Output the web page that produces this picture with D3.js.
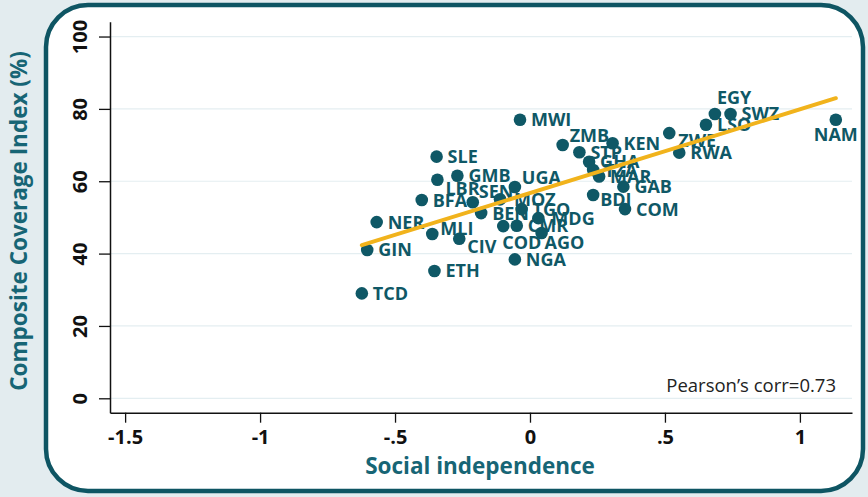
<!DOCTYPE html>
<html>
<head>
<meta charset="utf-8">
<script src="https://cdn.jsdelivr.net/npm/d3@7"></script>
<style>
  html, body { margin: 0; padding: 0; background: #e3ecef; }
  svg { display: block; }
</style>
</head>
<body>
<svg id="chart" width="868" height="497"></svg>
<script>
// Country codes, social independence score and composite coverage index (%)
const countries = ["TCD","GIN","NER","ETH","MLI","CIV","SLE","LBR","GMB","BFA","SEN","BEN",
  "MOZ","UGA","TGO","MDG","CMR","COD","AGO","NGA","MWI","ZMB","STP","KEN","GHA","TZA","MAR",
  "BDI","GAB","COM","ZWE","RWA","LSO","EGY","SWZ","NAM"];
const socialIndependence = [-0.623,-0.603,-0.568,-0.354,-0.362,-0.262,-0.346,-0.343,-0.269,-0.401,-0.212,-0.181,
  -0.111,-0.056,-0.031,0.031,-0.049,-0.099,0.043,-0.056,-0.037,0.121,0.183,0.306,0.219,0.234,0.256,
  0.234,0.346,0.352,0.516,0.553,0.652,0.685,0.743,1.133];
const coverageIndex = [29.0,41.0,48.7,35.2,45.4,44.1,66.8,60.4,61.5,54.8,54.2,51.2,
  55.0,58.4,52.3,49.8,47.7,47.6,45.7,38.4,77.0,70.0,68.0,70.5,65.4,63.1,61.3,
  56.2,58.5,52.3,73.3,67.9,75.6,78.6,78.6,77.0];

const xTicks = [-1.5, -1, -0.5, 0, 0.5, 1];
const xTickLabels = ["-1.5", "-1", "-.5", "0", ".5", "1"];
const yTicks = [0, 20, 40, 60, 80, 100];
const corrText = "Pearson\u2019s corr=0.73";

// Marker label placement (offset from the marker centre, px); default is to the right
const labelOffset = {
  UGA: [7, -10], SEN: [6, -11], ZMB: [7, -10], LBR: [8, 9], MLI: [8, -6],
  CIV: [8, 8], COD: [-1, 16], AGO: [3, 10], MOZ: [14, 0], EGY: [2, -16],
  ZWE: [9, 7], BDI: [7, 5], MDG: [13, 0], NAM: [0, 15]
};

const teal = "#0f5866";
const svg = d3.select("#chart");

// Rounded white panel
svg.append("rect")
  .attr("x", 46).attr("y", 5).attr("width", 817).attr("height", 486)
  .attr("rx", 42).attr("ry", 42)
  .attr("fill", "#ffffff").attr("stroke", "#0e5563").attr("stroke-width", 4.5);

const x = d3.scaleLinear().domain([-1.556, 1.193]).range([110, 852]);
const y = d3.scaleLinear().domain([-3.98, 104.1]).range([412.7, 21.7]);

// Horizontal grid
svg.append("g").selectAll("line").data(yTicks).join("line")
  .attr("x1", 110).attr("x2", 852)
  .attr("y1", d => y(d)).attr("y2", d => y(d))
  .attr("stroke", "#e4eef1").attr("stroke-width", 1.2);

// Axes
const xAxis = d3.axisBottom(x).tickValues(xTicks)
  .tickFormat((d, i) => xTickLabels[i]).tickSize(10).tickSizeOuter(0).tickPadding(4);
const gx = svg.append("g").attr("transform", "translate(0,412.7)").call(xAxis);
gx.select(".domain").attr("stroke", "#111").attr("stroke-width", 1.5);
gx.selectAll(".tick line").attr("stroke", "#111").attr("stroke-width", 1.3);
gx.selectAll(".tick text")
  .attr("fill", "#111").attr("font-family", "Open Sans").attr("font-weight", 700)
  .attr("font-size", 20).attr("dy", "0.85em");

const yAxis = d3.axisLeft(y).tickValues(yTicks).tickSize(11).tickSizeOuter(0).tickPadding(0);
const gy = svg.append("g").attr("transform", "translate(110,0)").call(yAxis);
gy.select(".domain").attr("stroke", "#111").attr("stroke-width", 1.5);
gy.selectAll(".tick line").attr("stroke", "#111").attr("stroke-width", 1.3);
gy.selectAll(".tick text")
  .attr("fill", "#111").attr("font-family", "Open Sans").attr("font-weight", 700)
  .attr("font-size", 20)
  .attr("x", null).attr("dy", null)
  .attr("text-anchor", "middle")
  .attr("transform", "translate(-31,0) rotate(-90)")
  .attr("dominant-baseline", "central");

// Axis titles
svg.append("text")
  .attr("x", 480).attr("y", 474)
  .attr("text-anchor", "middle")
  .attr("font-family", "Open Sans").attr("font-weight", 700).attr("font-size", 22.5)
  .attr("fill", "#176575")
  .text("Social independence");

svg.append("text")
  .attr("transform", "translate(27,221) rotate(-90)")
  .attr("text-anchor", "middle")
  .attr("font-family", "Open Sans").attr("font-weight", 700).attr("font-size", 22.5)
  .attr("fill", "#176575")
  .text("Composite Coverage Index (%)");

// Points
const pts = countries.map((c, i) => ({ c, xv: socialIndependence[i], yv: coverageIndex[i] }));

// Least-squares fit over the observed range
const mx = d3.mean(pts, d => d.xv), my = d3.mean(pts, d => d.yv);
const slope = d3.sum(pts, d => (d.xv - mx) * (d.yv - my)) / d3.sum(pts, d => (d.xv - mx) ** 2);
const icpt = my - slope * mx;
const [xmin, xmax] = d3.extent(pts, d => d.xv);

svg.append("g").selectAll("circle").data(pts).join("circle")
  .attr("cx", d => x(d.xv)).attr("cy", d => y(d.yv)).attr("r", 6.3)
  .attr("fill", teal);

svg.append("g").selectAll("text").data(pts).join("text")
  .attr("x", d => x(d.xv) + (labelOffset[d.c] ? labelOffset[d.c][0] : 11))
  .attr("y", d => y(d.yv) + (labelOffset[d.c] ? labelOffset[d.c][1] : 0) + 6.5)
  .attr("text-anchor", d => d.c === "NAM" ? "middle" : "start")
  .attr("font-family", "Open Sans").attr("font-weight", 700).attr("font-size", 18)
  .attr("fill", teal)
  .text(d => d.c);

svg.append("line")
  .attr("x1", x(xmin)).attr("y1", y(icpt + slope * xmin))
  .attr("x2", x(xmax)).attr("y2", y(icpt + slope * xmax))
  .attr("stroke", "#f1b31c").attr("stroke-width", 4).attr("stroke-linecap", "round");

// Correlation note
svg.append("text")
  .attr("x", 836).attr("y", 392)
  .attr("text-anchor", "end")
  .attr("font-family", "Open Sans").attr("font-size", 18.5)
  .attr("fill", "#222")
  .text(corrText);
</script>
</body>
</html>
